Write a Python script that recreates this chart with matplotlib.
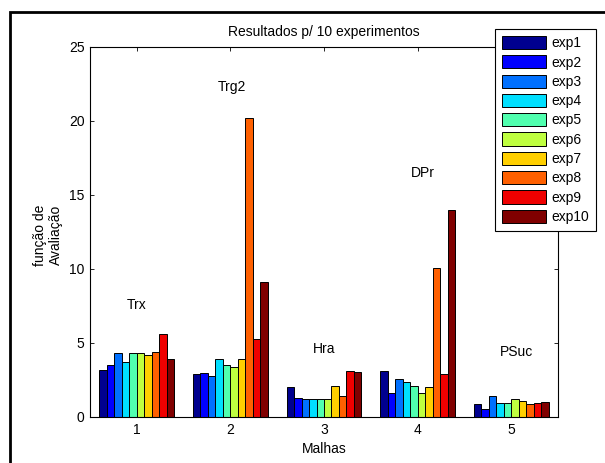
import matplotlib
matplotlib.use("Agg")
import matplotlib.pyplot as plt
import numpy as np
from matplotlib.patches import Rectangle

plt.rcParams["font.family"] = ["Liberation Sans", "DejaVu Sans"]
plt.rcParams["font.size"] = 10

# dados
malhas = [1, 2, 3, 4, 5]
exp_names = ["exp1", "exp2", "exp3", "exp4", "exp5",
             "exp6", "exp7", "exp8", "exp9", "exp10"]
trx = [3.2, 3.5, 4.3, 3.7, 4.3, 4.3, 4.2, 4.4, 5.6, 3.9]
trg2 = [2.9, 3.0, 2.8, 3.9, 3.5, 3.4, 3.9, 20.2, 5.3, 9.1]
hra = [2.0, 1.3, 1.2, 1.2, 1.2, 1.2, 2.1, 1.4, 3.1, 3.05]
dpr = [3.1, 1.65, 2.55, 2.35, 2.1, 1.6, 2.0, 10.1, 2.9, 14.0]
psuc = [0.85, 0.55, 1.4, 0.95, 0.95, 1.2, 1.05, 0.9, 0.95, 1.0]
group_labels = ["Trx", "Trg2", "Hra", "DPr", "PSuc"]
label_pos = [(1.0, 7.6), (2.02, 22.3), (3.0, 4.6), (4.06, 16.5), (5.06, 4.4)]

values = np.array([trx, trg2, hra, dpr, psuc])  # grupos x experimentos


def matlab_jet(m=64):
    # colormap jet do MATLAB (m cores)
    n = int(np.ceil(m / 4))
    u = np.concatenate([np.arange(1, n + 1) / n, np.ones(n - 1),
                        np.arange(n, 0, -1) / n])
    g = int(np.ceil(n / 2)) - (1 if m % 4 == 1 else 0) + np.arange(1, len(u) + 1)
    r = g + n
    b = g - n
    J = np.zeros((m, 3))
    for col, idx in ((0, r), (1, g), (2, b)):
        ok = (idx >= 1) & (idx <= m)
        J[idx[ok] - 1, col] = u[ok]
    return J


n = len(exp_names)
cmap = matlab_jet(64)
colors = [cmap[int(i / (n - 1) * 63)] for i in range(n)]

fig = plt.figure(figsize=(6.05, 4.63), dpi=100)
fig.patch.set_facecolor("white")
W, H = 605, 463
ax = fig.add_axes([90 / W, 1 - 417 / H, (558 - 90) / W, (417 - 47) / H])

bw = 0.08
x = np.array(malhas, dtype=float)
for i in range(n):
    ax.bar(x + (i - (n - 1) / 2) * bw, values[:, i], width=bw,
           color=colors[i], edgecolor="black", linewidth=0.7,
           label=exp_names[i], zorder=2)

for lab, (tx, ty) in zip(group_labels, label_pos):
    ax.text(tx, ty, lab, ha="center", va="center", fontsize=10)

ax.set_xlim(0.5, 5.5)
ax.set_ylim(0, 25)
ax.set_xticks(malhas)
ax.set_yticks([0, 5, 10, 15, 20, 25])
ax.tick_params(direction="in", length=3, width=0.6, top=True, right=True,
               labelsize=10, pad=4)
for s in ax.spines.values():
    s.set_linewidth(0.8)

ax.set_title("Resultados p/ 10 experimentos", fontsize=10, pad=8)
ax.set_xlabel("Malhas", fontsize=10, labelpad=4)
fig.text(48 / W, 1 - 235 / H, "função de\nAvaliação", rotation=90,
         ha="center", va="center", multialignment="center", fontsize=10)

leg = ax.legend(loc="upper left", bbox_to_anchor=(495 / W, 1 - 29 / H),
                bbox_transform=fig.transFigure, fancybox=False,
                framealpha=1, edgecolor="black", handlelength=3.15,
                handleheight=1.08, labelspacing=0.36, borderpad=0.5,
                handletextpad=0.4, borderaxespad=0, fontsize=10)
leg.get_frame().set_linewidth(0.8)

# moldura externa
fig.patches.append(Rectangle((10 / W, -0.2), 1.5, 1 - 12 / H + 0.2,
                             transform=fig.transFigure, fill=False,
                             edgecolor="black", linewidth=2, zorder=-1))

fig.savefig("out.png", dpi=100)
